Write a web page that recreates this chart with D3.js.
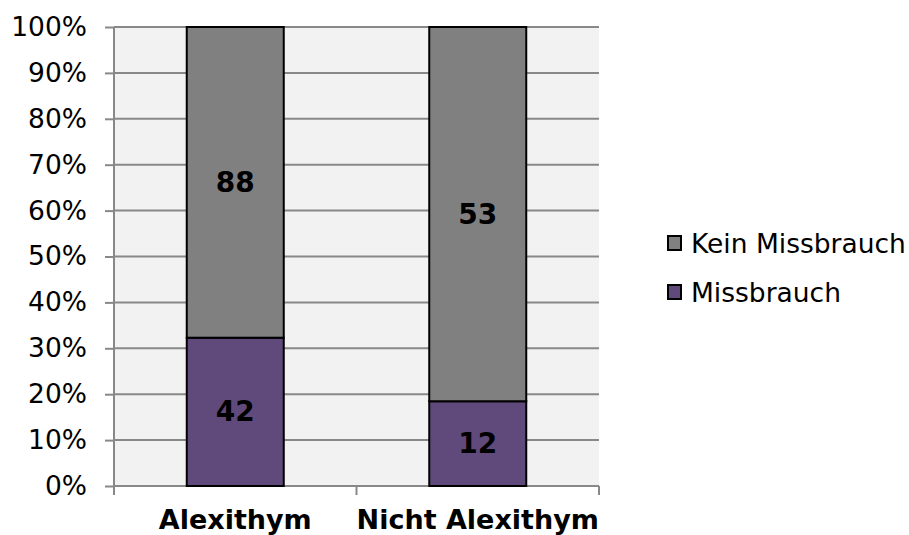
<!DOCTYPE html>
<html>
<head>
<meta charset="utf-8">
<script src="https://cdn.jsdelivr.net/npm/d3@7"></script>
<style>
  html, body { margin: 0; padding: 0; background: #fff; }
  svg { display: block; font-family: "DejaVu Sans", Verdana, sans-serif; }
</style>
</head>
<body>
<svg id="chart" width="909" height="535"></svg>
<script>
// Group counts per category (stacked to 100%)
const categories = ["Alexithym", "Nicht Alexithym"];
const missbrauch = [42, 12];
const keinMissbrauch = [88, 53];
const seriesNames = ["Missbrauch", "Kein Missbrauch"];
const seriesColors = ["#604a7b", "#808080"];
const yTicks = [0, 0.1, 0.2, 0.3, 0.4, 0.5, 0.6, 0.7, 0.8, 0.9, 1.0];

const rows = categories.map((c, i) => ({
  category: c,
  "Missbrauch": missbrauch[i],
  "Kein Missbrauch": keinMissbrauch[i]
}));

const svg = d3.select("#chart");
const plot = { left: 114, right: 599, top: 27, bottom: 486 };

const x = d3.scaleBand()
  .domain(categories)
  .range([plot.left, plot.right])
  .paddingInner(0.6)
  .paddingOuter(0.3);

const y = d3.scaleLinear().domain([0, 1]).range([plot.bottom, plot.top]);

const stacked = d3.stack()
  .keys(seriesNames)
  .offset(d3.stackOffsetExpand)(rows);

// plot background
svg.append("rect")
  .attr("x", plot.left).attr("y", plot.top)
  .attr("width", plot.right - plot.left).attr("height", plot.bottom - plot.top)
  .attr("fill", "#f2f2f2");

// y axis with gridlines
const yAxis = d3.axisLeft(y)
  .tickValues(yTicks)
  .tickFormat(d3.format(".0%"))
  .tickSize(9)
  .tickPadding(18);

const gy = svg.append("g")
  .attr("transform", `translate(${plot.left},0)`)
  .call(yAxis);
gy.select(".domain").attr("stroke", "#888").attr("stroke-width", 2).attr("d", `M0,${plot.top}V${plot.bottom}`);
gy.selectAll(".tick line").attr("stroke", "#888").attr("stroke-width", 2);
gy.selectAll(".tick text")
  .attr("fill", "#000")
  .style("font-size", "26.5px")
  .style("font-family", "'DejaVu Sans', Verdana, sans-serif");

svg.append("g")
  .selectAll("line")
  .data(yTicks.filter(d => d > 0))
  .join("line")
  .attr("x1", plot.left).attr("x2", plot.right)
  .attr("y1", d => y(d)).attr("y2", d => y(d))
  .attr("stroke", "#888").attr("stroke-width", 2);

// x axis line and category boundary ticks
const step = x.step();
const boundaries = [plot.left].concat(categories.map(c => x(c) - x.paddingInner() * step / 2 + step));
svg.append("line")
  .attr("x1", plot.left).attr("x2", plot.right)
  .attr("y1", plot.bottom).attr("y2", plot.bottom)
  .attr("stroke", "#888").attr("stroke-width", 2);
svg.append("g")
  .selectAll("line")
  .data(boundaries)
  .join("line")
  .attr("x1", d => d).attr("x2", d => d)
  .attr("y1", plot.bottom).attr("y2", plot.bottom + 9)
  .attr("stroke", "#888").attr("stroke-width", 2);

// stacked bars
const layers = svg.append("g")
  .selectAll("g")
  .data(stacked)
  .join("g")
  .attr("fill", (d, i) => seriesColors[i]);

layers.selectAll("rect")
  .data(d => d)
  .join("rect")
  .attr("x", d => x(d.data.category))
  .attr("width", x.bandwidth())
  .attr("y", d => y(d[1]))
  .attr("height", d => y(d[0]) - y(d[1]))
  .attr("stroke", "#000")
  .attr("stroke-width", 2);

// value labels
layers.selectAll("text")
  .data((d) => d.map(p => ({ p, key: d.key })))
  .join("text")
  .attr("x", d => x(d.p.data.category) + x.bandwidth() / 2)
  .attr("y", d => (y(d.p[0]) + y(d.p[1])) / 2)
  .attr("text-anchor", "middle")
  .attr("dominant-baseline", "central")
  .attr("fill", "#000")
  .style("font-size", "28px")
  .style("font-weight", "bold")
  .text(d => d.p.data[d.key]);

// category labels
svg.append("g")
  .selectAll("text")
  .data(categories)
  .join("text")
  .attr("x", d => x(d) + x.bandwidth() / 2)
  .attr("y", 529)
  .attr("text-anchor", "middle")
  .attr("fill", "#000")
  .style("font-size", "27px")
  .style("font-weight", "bold")
  .text(d => d);

// legend (stack order reversed: top series first)
const legendItems = seriesNames.slice().reverse().map(name => ({
  name, color: seriesColors[seriesNames.indexOf(name)]
}));
const legend = svg.append("g")
  .selectAll("g")
  .data(legendItems)
  .join("g")
  .attr("transform", (d, i) => `translate(668,${243 + i * 49})`);
legend.append("rect")
  .attr("x", 0).attr("y", -7)
  .attr("width", 13).attr("height", 14)
  .attr("fill", d => d.color)
  .attr("stroke", "#000").attr("stroke-width", 2);
legend.append("text")
  .attr("x", 23).attr("y", 0)
  .attr("dominant-baseline", "central")
  .attr("fill", "#000")
  .style("font-size", "26.5px")
  .text(d => d.name);
</script>
</body>
</html>
